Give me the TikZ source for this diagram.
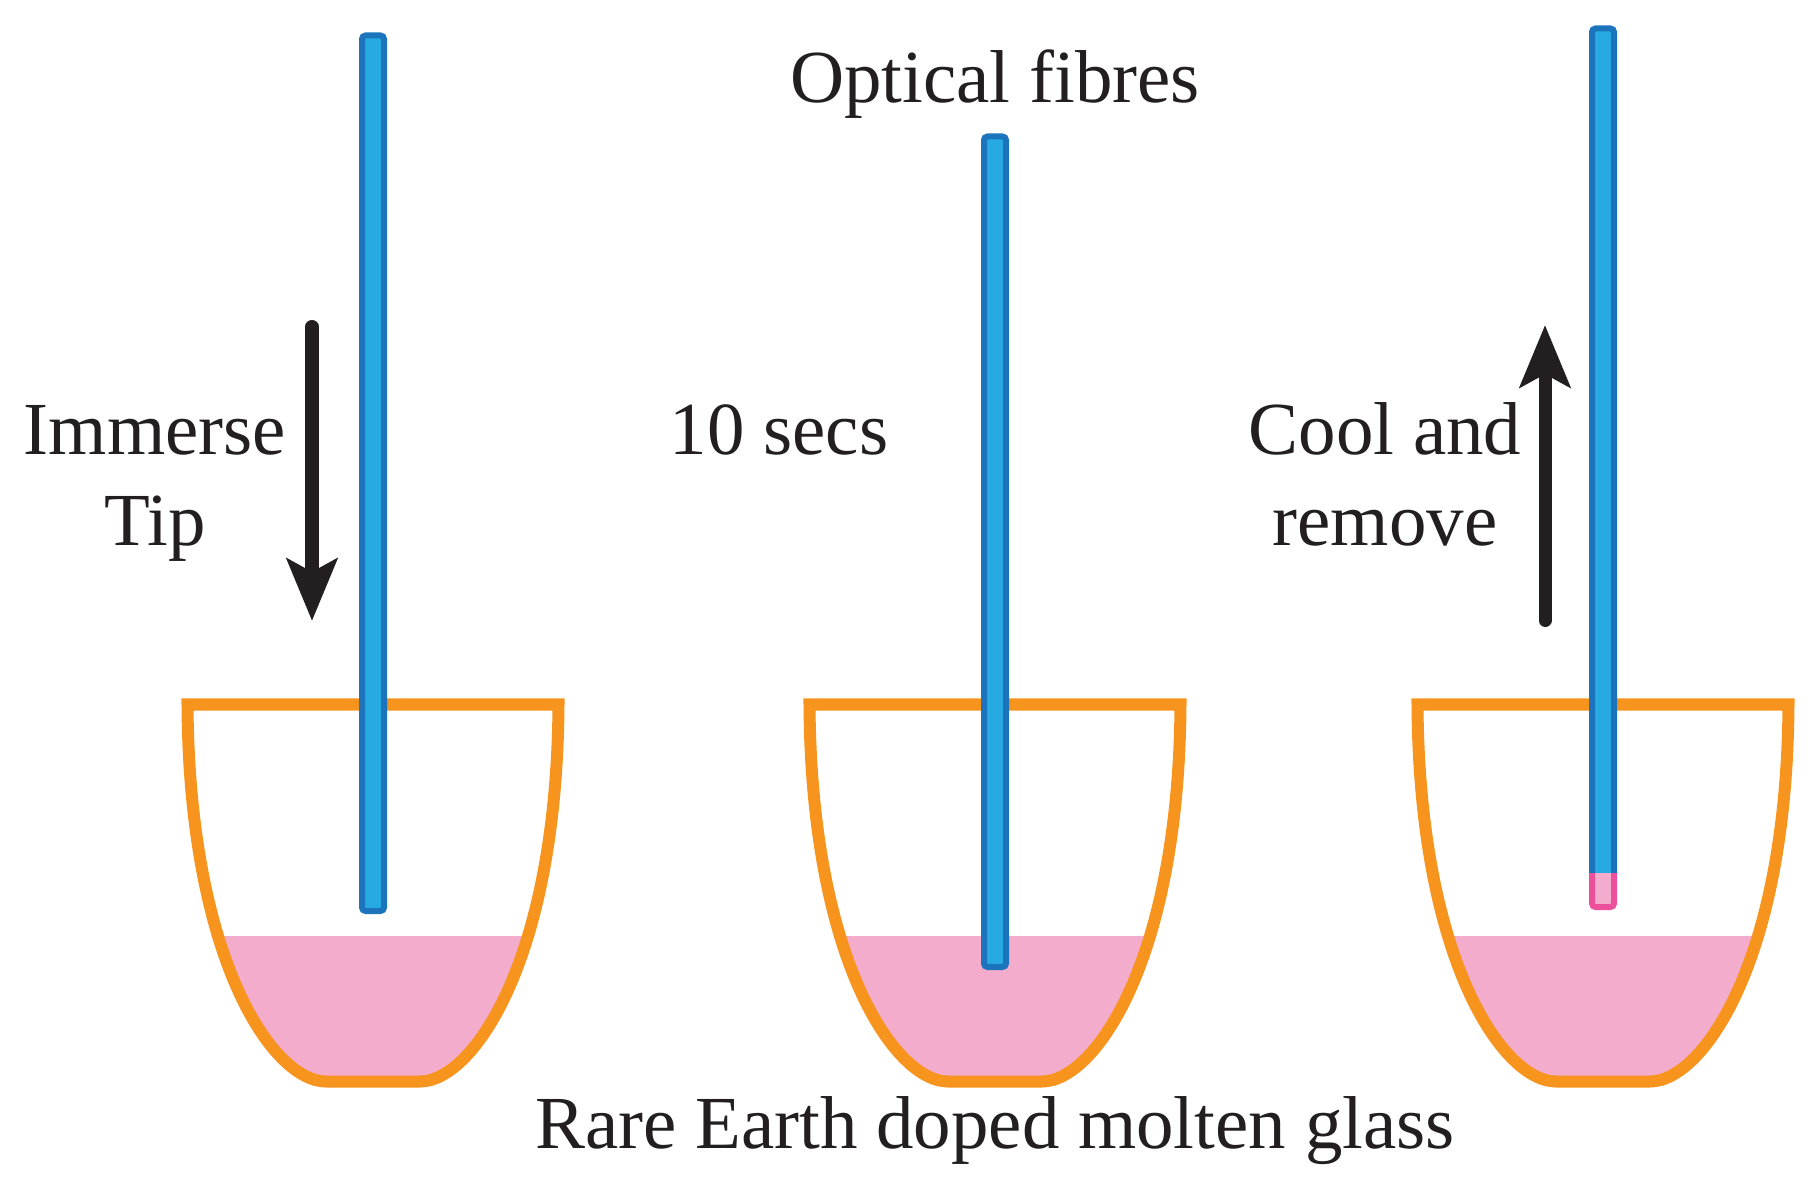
\documentclass[tikz,border=0pt]{standalone}
\usepackage{fontspec}
\setmainfont{Liberation Serif}
\usetikzlibrary{arrows.meta, positioning}
\definecolor{potorange}{HTML}{F7941D}
\definecolor{meltpink}{HTML}{F4ACCD}
\definecolor{fibrefill}{HTML}{27AAE1}
\definecolor{fibreedge}{HTML}{1C75BC}
\definecolor{tipedge}{HTML}{EC4F9C}
\definecolor{inkblack}{HTML}{231F20}
\tikzset{
  pot/.style={draw=potorange, line width=0.12cm},
  melt/.style={fill=meltpink},
  fibre/.style={fill=fibrefill, draw=fibreedge, line width=0.06cm, rounded corners=1pt},
  coated/.style={fill=meltpink, draw=tipedge, line width=0.06cm, rounded corners=1pt},
  move/.style={-{Stealth[length=0.62cm, width=0.5cm, inset=0.13cm]}, line width=0.13cm, line cap=round, draw=inkblack},
  lbl/.style={font=\fontsize{21.3}{25.6}\selectfont, text=inkblack, inner sep=0pt, align=center},
}

\begin{document}
\begin{tikzpicture}[x=0.01cm, y=-0.01cm]
  \useasboundingbox (0,0) rectangle (1820,1188);
  % crucibles, each holding the molten glass
  \foreach \cx in {373,995,1603}{
    \begin{scope}[shift={(\cx,0)}]
      \begin{scope}
        \clip (-185.5,704.5) .. controls (-184,960) and (-100,1081.5) .. (-47,1081.5)
          -- (47,1081.5) .. controls (100,1081.5) and (184,960) .. (185.5,704.5) -- cycle;
        \fill[melt] (-200,935.7) rectangle (200,1100);
      \end{scope}
      \draw[pot] (-185.5,704.5) .. controls (-184,960) and (-100,1081.5) .. (-47,1081.5)
        -- (47,1081.5) .. controls (100,1081.5) and (184,960) .. (185.5,704.5) -- cycle;
    \end{scope}
  }
  % fibres
  \filldraw[fibre] (362,35.5) rectangle (384,911);
  \filldraw[fibre] (984,136.5) rectangle (1006,967);
  \fill[fibrefill] (1592,28.5) rectangle (1614,873);
  \draw[fibre, fill=none] (1592,873) -- (1592,28.5) -- (1614,28.5) -- (1614,873);
  \filldraw[coated] (1592,873) -- (1592,907) -- (1614,907) -- (1614,873);
  % motion arrows
  \coordinate (dipstart) at (312,326.5);
  \coordinate (dipend) at (312,621);
  \draw[move] (dipstart) -- (dipend);
  \coordinate (liftstart) at (1545,620.5);
  \coordinate (liftend) at (1545,325);
  \draw[move] (liftstart) -- (liftend);
  % labels
  \node[lbl, anchor=base] (fibres) at (995,103) {Optical fibres};
  \node[lbl, anchor=base] (immerse) at (155,545) {Immerse\\Tip};
  \node[lbl, anchor=base] (wait) at (779,455) {10 secs};
  \node[lbl, anchor=base] (cool) at (1385,545) {Cool and\\remove};
  \node[lbl, anchor=base] (glass) at (995,1148) {Rare Earth doped molten glass};
\end{tikzpicture}
\end{document}
